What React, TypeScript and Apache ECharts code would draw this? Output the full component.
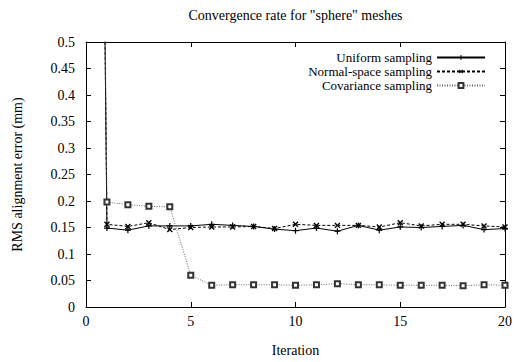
import React, { useEffect, useRef } from "react";
import * as echarts from "echarts";

const iterations = [0, 1, 2, 3, 4, 5, 6, 7, 8, 9, 10, 11, 12, 13, 14, 15, 16, 17, 18, 19, 20];
const uniform = [4, 0.149, 0.145, 0.153, 0.153, 0.153, 0.156, 0.154, 0.152, 0.147, 0.144, 0.149, 0.143, 0.154, 0.145, 0.151, 0.15, 0.152, 0.154, 0.146, 0.148];
const normalSpace = [4, 0.156, 0.152, 0.159, 0.146, 0.15, 0.151, 0.151, 0.152, 0.148, 0.156, 0.154, 0.154, 0.154, 0.151, 0.159, 0.153, 0.156, 0.156, 0.153, 0.151];
const covariance = [4, 0.198, 0.193, 0.19, 0.189, 0.06, 0.041, 0.042, 0.042, 0.042, 0.041, 0.042, 0.044, 0.042, 0.042, 0.041, 0.041, 0.041, 0.04, 0.042, 0.041];
const seriesNames = ["Uniform sampling", "Normal-space sampling", "Covariance sampling"];
const titleText = 'Convergence rate for "sphere" meshes';
const xName = "Iteration";
const yName = "RMS alignment error (mm)";

const FONT = "Liberation Serif";
const FS = 14;
const PLUS = "path://M4,0H6V4H10V6H6V10H4V6H0V4H4Z";

export default function App() {
  const ref = useRef<HTMLDivElement>(null);
  useEffect(() => {
    if (!ref.current) return;
    const chart = echarts.init(ref.current, undefined, { renderer: "svg" });
    const pairs = (vals: number[]) => iterations.map((x, i) => [x, vals[i]]);
    const axisCommon = {
      type: "value" as const,
      axisLine: { show: true, onZero: false, lineStyle: { color: "#000", width: 1 } },
      axisTick: { show: true, inside: true, length: 5, lineStyle: { color: "#000" } },
      splitLine: { show: false },
    };
    const labelStyle = { color: "#000", fontFamily: FONT, fontSize: FS };
    const legendRows = [51, 65, 79];
    chart.setOption({
      animation: false,
      backgroundColor: "#fff",
      title: {
        text: titleText,
        left: 295.5,
        top: 8,
        padding: 0,
        textAlign: "center",
        textStyle: { color: "#000", fontFamily: FONT, fontSize: FS, fontWeight: "normal" },
      },
      legend: seriesNames.map((n, i) => ({
        data: [n],
        orient: "vertical",
        align: "right",
        right: 29,
        top: legendRows[i],
        padding: 0,
        itemWidth: 48,
        itemHeight: 6,
        selectedMode: false,
        textStyle: { color: "#000", fontFamily: FONT, fontSize: 13, lineHeight: 12 },
      })),
      grid: { left: 86, right: 10, top: 42, bottom: 48 },
      xAxis: [
        {
          ...axisCommon,
          min: 0,
          max: 20,
          interval: 5,
          position: "bottom",
          name: xName,
          nameLocation: "middle",
          nameGap: 36,
          nameTextStyle: labelStyle,
          axisLabel: { ...labelStyle, margin: 7 },
        },
        {
          ...axisCommon,
          min: 0,
          max: 20,
          interval: 5,
          position: "top",
          axisLabel: { show: false },
        },
      ],
      yAxis: [
        {
          ...axisCommon,
          min: 0,
          max: 0.5,
          interval: 0.05,
          position: "left",
          name: yName,
          nameLocation: "middle",
          nameRotate: 90,
          nameGap: 62,
          nameTextStyle: labelStyle,
          axisLabel: { ...labelStyle, margin: 11 },
        },
        {
          ...axisCommon,
          min: 0,
          max: 0.5,
          interval: 0.05,
          position: "right",
          axisLabel: { show: false },
        },
      ],
      series: [
        {
          name: seriesNames[0],
          type: "line",
          data: pairs(uniform),
          clip: true,
          symbol: PLUS,
          symbolSize: 6,
          color: "#000",
          itemStyle: { color: "#000" },
          lineStyle: { color: "#000", width: 1 },
        },
        {
          name: seriesNames[1],
          type: "line",
          data: pairs(normalSpace),
          clip: true,
          symbol: PLUS,
          symbolRotate: 45,
          symbolSize: 7,
          color: "#000",
          itemStyle: { color: "#000" },
          lineStyle: { color: "#000", width: 1, type: [3, 2] },
        },
        {
          name: seriesNames[2],
          type: "line",
          data: pairs(covariance),
          clip: true,
          symbol: "emptyRect",
          symbolSize: 5,
          color: "#333",
          itemStyle: { color: "#333", borderColor: "#333", borderWidth: 1 },
          lineStyle: { color: "#666", width: 1, type: [1, 1.5] },
        },
      ],
    });
    return () => chart.dispose();
  }, []);
  return <div ref={ref} style={{ position: "fixed", left: 0, top: 0, width: 515, height: 362 }} />;
}
